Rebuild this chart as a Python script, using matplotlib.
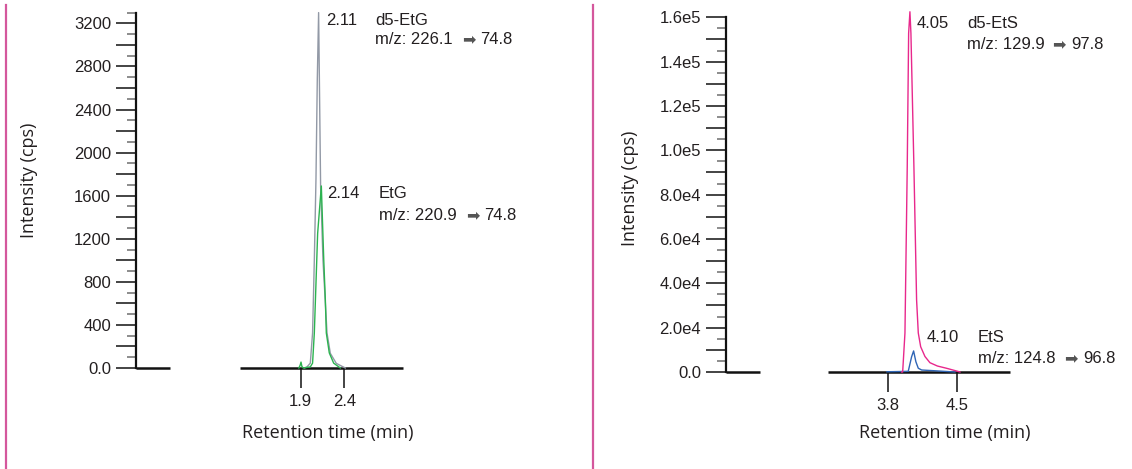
import matplotlib.pyplot as plt
from matplotlib.lines import Line2D
from matplotlib.ticker import MultipleLocator, FuncFormatter

plt.rcParams['font.family'] = ['Liberation Sans', 'DejaVu Sans']

# EtG panel: retention time (min) / intensity (cps)
d5_etg_time = [1.942, 1.973, 2.011, 2.037, 2.057, 2.076, 2.091, 2.106, 2.129, 2.156, 2.202, 2.240, 2.308, 2.411]
d5_etg_cps = [0, 10, 45, 325, 1000, 1760, 2680, 3300, 1680, 1000, 325, 136, 43, 0]
etg_time = [1.880, 1.895, 1.905, 1.915, 1.930, 2.011, 2.037, 2.057, 2.095, 2.137, 2.165, 2.183, 2.194, 2.228, 2.278, 2.354]
etg_cps = [0, 25, 55, 15, 0, 10, 45, 325, 1250, 1690, 1000, 630, 325, 140, 45, 0]

# EtS panel
d5_ets_time = [3.940, 3.951, 3.974, 3.997, 4.011, 4.024, 4.034, 4.064, 4.091, 4.108, 4.132, 4.175, 4.225, 4.300, 4.393, 4.493, 4.527]
d5_ets_cps = [0, 0, 17600, 92600, 152800, 162500, 152800, 92600, 32500, 17600, 11400, 7000, 4200, 2700, 1670, 450, 0]
ets_time = [3.793, 3.900, 4.007, 4.041, 4.061, 4.084, 4.108, 4.142, 4.258, 4.476]
ets_cps = [100, 200, 300, 6900, 9500, 4600, 1700, 900, 600, 0]

etg_ticks = [1.9, 2.4]
ets_ticks = [3.8, 4.5]

W, H = 1132, 469
TXT = '#231f20'
SEP = '#d4579c'
FS = 12


def fx(x):
    return x / W


def fy(y):
    return 1 - y / H


fig = plt.figure(figsize=(W / 100, H / 100), dpi=100)


def setup(ax, xlim, ylim, stub, span, ticks, major, label_every, fmt):
    ax.set_xlim(*xlim)
    ax.set_ylim(*ylim)
    ax.patch.set_alpha(0)
    for s in ['top', 'right', 'bottom']:
        ax.spines[s].set_visible(False)
    ax.spines['left'].set_linewidth(1.6)
    ax.spines['left'].set_color('#111111')
    # broken time axis
    ax.plot(stub, [0, 0], color='#111111', lw=1.8, clip_on=False, solid_capstyle='butt')
    ax.plot(span, [0, 0], color='#111111', lw=1.8, clip_on=False, solid_capstyle='butt')
    ax.set_xticks(ticks)
    ax.set_xticklabels([f'{t:.1f}' for t in ticks])
    ax.tick_params(axis='x', direction='out', length=14.5, width=1.1, color='#111111',
                   labelsize=FS, labelcolor=TXT, pad=4)
    ax.yaxis.set_major_locator(MultipleLocator(major))
    ax.yaxis.set_minor_locator(MultipleLocator(major / 2))
    ax.yaxis.set_major_formatter(FuncFormatter(
        lambda v, p: fmt(v) if round(v / label_every, 6) % 1 == 0 else ''))
    ax.tick_params(axis='y', which='major', direction='out', length=14.5, width=1.1,
                   color='#111111', labelsize=FS, labelcolor=TXT, pad=3.5)
    ax.tick_params(axis='y', which='minor', direction='out', length=6.5, width=1.4,
                   color='#8c8c8c')


def fmt_plain(v):
    return '0.0' if v == 0 else f'{v:.0f}'


def fmt_sci(v):
    if v == 0:
        return '0.0'
    m, e = f'{v:.1e}'.split('e')
    return f'{m}e{int(e)}'


ax1 = fig.add_axes([fx(136), fy(368), fx(403) - fx(136), fy(12.6) - fy(368)])
setup(ax1, (0.02, 3.07), (0, 3300), [0.02, 0.41], [1.21, 3.07], etg_ticks, 200, 400, fmt_plain)
ax1.plot(d5_etg_time, d5_etg_cps, color='#9299a6', lw=1.0, clip_on=False)
ax1.plot(etg_time, etg_cps, color='#2bb34f', lw=1.0, clip_on=False)

ax2 = fig.add_axes([fx(726), fy(372), fx(1010) - fx(726), fy(17.3) - fy(372)])
setup(ax2, (2.175, 5.03), (0, 160000), [2.175, 2.52], [3.2, 5.03], ets_ticks, 10000, 20000, fmt_sci)
ax2.plot(ets_time, ets_cps, color='#2f65b5', lw=1.0, clip_on=False)
ax2.plot(d5_ets_time, d5_ets_cps, color='#e8288c', lw=1.0, clip_on=False)

# peak annotations
notes = [
    (326, 25, '2.11'), (375, 25, 'd5-EtG'),
    (327, 198.3, '2.14'), (379, 198.3, 'EtG'),
    (917, 27.7, '4.05'), (967, 27.7, 'd5-EtS'),
    (927, 341.7, '4.10'), (978, 341.7, 'EtS'),
]
for x, y, s in notes:
    fig.text(fx(x), fy(y), s, ha='left', va='baseline', fontsize=FS, color=TXT)

# transitions: precursor, arrow, product
transitions = [
    (375, 44, 'm/z: 226.1', 462.5, 480, '74.8'),
    (379, 220, 'm/z: 220.9', 466, 484.3, '74.8'),
    (967, 49, 'm/z: 129.9', 1052.5, 1071.7, '97.8'),
    (978, 362.7, 'm/z: 124.8', 1064, 1083.3, '96.8'),
]
for x, y, pre, xa, xb, post in transitions:
    fig.text(fx(x), fy(y), pre, ha='left', va='baseline', fontsize=FS, color=TXT)
    fig.text(fx(xa), fy(y - 4.5), '\u27a1', ha='left', va='center', fontsize=11.5,
             color='#555555', family='DejaVu Sans')
    fig.text(fx(xb), fy(y), post, ha='left', va='baseline', fontsize=FS, color=TXT)

# axis titles
for x in [328, 945]:
    fig.text(fx(x), fy(433), 'Retention time (min)', ha='center', va='center',
             fontsize=13, color=TXT, family='Open Sans')
for x, y in [(29, 180), (630, 188)]:
    fig.text(fx(x), fy(y), 'Intensity (cps)', ha='center', va='center', rotation=90,
             fontsize=13, color=TXT, family='Open Sans')

# panel separators
for x in [5.5, 592.7]:
    fig.add_artist(Line2D([fx(x), fx(x)], [fy(5), fy(469)], color=SEP, lw=1.6))

fig.savefig('out.png', dpi=100)
